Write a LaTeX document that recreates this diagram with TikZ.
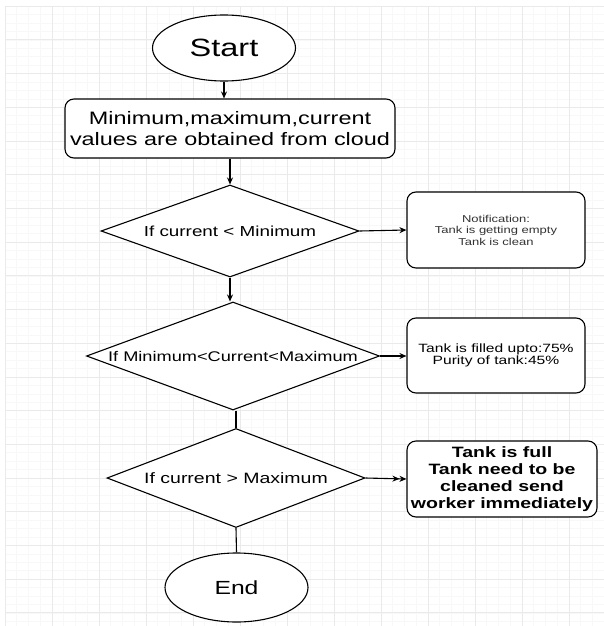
\documentclass[tikz,border=0pt]{standalone}
\usepackage{fontspec}
\setmainfont{Liberation Sans}[FakeStretch=1.3]
\usetikzlibrary{shapes.geometric,arrows.meta}

\begin{document}
\begin{tikzpicture}
[%%%%%%%%%%%%%%%%%%%%%%%%%%%%%%
x=1pt,y=-1pt,
terminal/.style={ellipse,draw=black,line width=1.1pt,fill=white,inner sep=0pt},
process/.style={rectangle,rounded corners=9pt,draw=black,line width=1.1pt,fill=white,align=center,inner sep=0pt},
decision/.style={diamond,aspect=3,draw=black,line width=1.1pt,fill=white,inner sep=0pt},
flow/.style={line width=1.1pt,-{Stealth[length=7pt,width=6pt]}},
]%%%%%%%%%%%%%%%%%%%%%%%%%%%%%%

\useasboundingbox (0,0) rectangle (604,626);
\fill[white] (0,0) rectangle (604,626);

% grid
\foreach \i in {0,1,...,51}
\draw[color={rgb,255:red,248;green,248;blue,248},line width=0.7pt] (5+11.75*\i,6.3) -- (5+11.75*\i,626);
\foreach \j in {0,1,...,73}
\draw[color={rgb,255:red,248;green,248;blue,248},line width=0.7pt] (5,6.3+8.425*\j) -- (604,6.3+8.425*\j);
\foreach \i in {0,1,...,12}
\draw[color={rgb,255:red,234;green,234;blue,234},line width=1pt] (5+47*\i,6.3) -- (5+47*\i,626);
\foreach \j in {0,1,...,18}
\draw[color={rgb,255:red,234;green,234;blue,234},line width=1pt] (5,6.3+33.7*\j) -- (604,6.3+33.7*\j);

% flow chart
\node[terminal,minimum width=143pt,minimum height=66pt,font=\fontsize{25}{30}\selectfont] (start) at (224,48) {Start};
\node[process,minimum width=330pt,minimum height=59pt,font=\fontsize{18}{21}\selectfont] (fetch) at (230,128.5)
{Minimum,maximum,current\\values are obtained from cloud};

\node[decision,minimum width=258pt,minimum height=92pt,font=\fontsize{14.5}{17}\selectfont] (low) at (230,231) {If current < Minimum};
\node[decision,minimum width=293pt,minimum height=108pt,font=\fontsize{14}{17}\selectfont] (mid) at (233,356) {If Minimum<Current<Maximum};
\node[decision,minimum width=258pt,minimum height=99pt,font=\fontsize{15}{18}\selectfont] (high) at (236,478) {If current > Maximum};

\node[process,minimum width=178pt,minimum height=76pt,font=\fontsize{10}{11.5}\selectfont,text=black!80] (lowmsg) at (496,230)
{Notification:\\Tank is getting empty\\Tank is clean};
\node[process,minimum width=178pt,minimum height=75pt,font=\fontsize{12}{12}\selectfont] (midmsg) at (496,355.5)
{Tank is filled upto:75\%\\Purity of tank:45\%};
\node[process,minimum width=190pt,minimum height=76pt,font=\bfseries\fontsize{15}{17}\selectfont] (highmsg) at (502,479)
{Tank is full\\Tank need to be\\cleaned send\\worker immediately};

\node[terminal,minimum width=143pt,minimum height=69pt,font=\fontsize{19}{23}\selectfont] (end) at (236.5,587.5) {End};

\draw[flow] (start.south) -- (start.south |- fetch.north);
\draw[flow] (fetch.south) -- (low.north);
\draw[flow] (low.south) -- (low.south |- mid.north);
\draw[line width=1.1pt] (high.north |- mid.south) -- (high.north);
\draw[line width=1.1pt] (high.south) -- (end.north);

\draw[flow] (low.east) -- (lowmsg.west);
\draw[flow] (mid.east) -- (mid.east -| midmsg.west);
\draw[line width=1.1pt,-{Stealth[length=7pt,width=6pt] Stealth[length=7pt,width=6pt]}] (high.east) -- (highmsg.west);
\end{tikzpicture}
\end{document}
